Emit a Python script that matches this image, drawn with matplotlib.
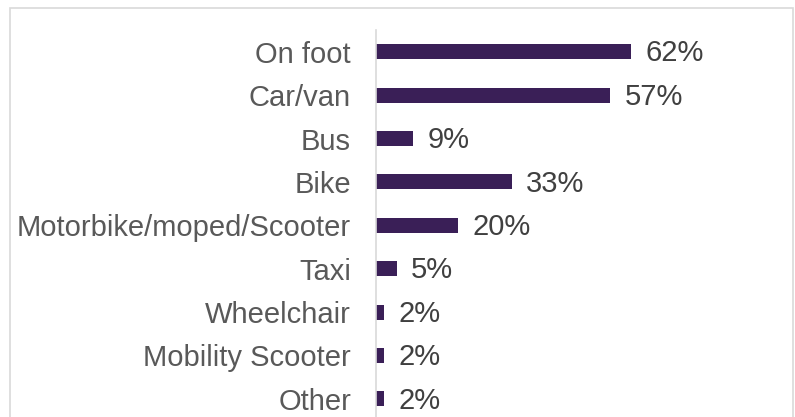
import matplotlib
matplotlib.use("Agg")
import matplotlib.pyplot as plt
from matplotlib.patches import Rectangle

categories = ["On foot", "Car/van", "Bus", "Bike", "Motorbike/moped/Scooter",
              "Taxi", "Wheelchair", "Mobility Scooter", "Other"]
values = [62, 57, 9, 33, 20, 5, 2, 2, 2]

plt.rcParams["font.family"] = ["Liberation Sans", "DejaVu Sans"]

W, H = 795, 417
fig = plt.figure(figsize=(W / 100, H / 100), dpi=100)

# outer frame
fig.patches.append(Rectangle((9.5 / W, -0.05), (792.5 - 9.5) / W, (H - 7.5) / H + 0.05,
                             transform=fig.transFigure, fill=False,
                             edgecolor="#d9d9d9", linewidth=1.2))

ax_left, ax_top = 376, 30
ax_w = 411
ax_h = 9 * 43.4
ax = fig.add_axes([ax_left / W, (H - ax_top - ax_h) / H, ax_w / W, ax_h / H])

bar_color = "#3a1f57"
y = list(range(len(categories)))
ax.barh(y, values, height=0.35, color=bar_color)
ax.set_xlim(0, 100)
ax.set_ylim(len(categories) - 0.5, -0.5)

for yi, v in zip(y, values):
    ax.annotate(f"{v}%", (v, yi), xytext=(10.5, -1.2), textcoords="offset points",
                va="center", ha="left", fontsize=21, color="#404040")

ax.set_yticks(y)
ax.set_yticklabels(categories, fontsize=21, color="#595959")
ax.tick_params(axis="y", length=0, pad=18)
ax.set_xticks([])
for s in ["top", "right", "bottom"]:
    ax.spines[s].set_visible(False)
ax.spines["left"].set_color("#d9d9d9")
ax.spines["left"].set_linewidth(1.2)

fig.savefig("out.png", dpi=100)
